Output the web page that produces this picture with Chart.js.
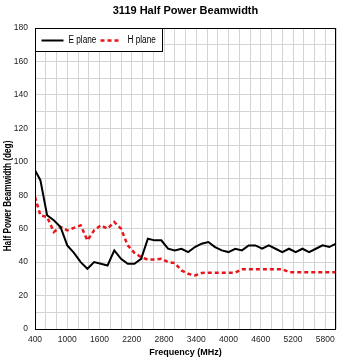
<!DOCTYPE html>
<html>
<head>
<meta charset="utf-8">
<script src="https://cdn.jsdelivr.net/npm/chart.js@4"></script>
<style>
  html, body { margin: 0; padding: 0; background: #fff; }
  #wrap { width: 350px; height: 359px; }
</style>
</head>
<body>
<div id="wrap"><canvas id="beamChart" width="350" height="359"></canvas></div>
<script>
// frequencies in MHz
const freqs = [400, 500, 625, 750, 875, 1000, 1125, 1250, 1375, 1500,
    1625, 1750, 1875, 2000, 2125, 2250, 2375, 2500, 2625, 2750,
    2875, 3000, 3125, 3250, 3375, 3500, 3625, 3750, 3875, 4000,
    4125, 4250, 4375, 4500, 4625, 4750, 4875, 5000, 5125, 5250,
    5375, 5500, 5625, 5750, 5875, 6000];
const ePlane = [95, 89, 68, 65, 61, 50, 45.5, 40, 36, 40,
    39, 38, 47, 42, 39, 39, 42, 54, 53, 53,
    48, 47, 48, 46, 49, 51, 52, 49, 47, 46,
    48, 47, 50, 50, 48, 50, 48, 46, 48, 46,
    48, 46, 48, 50, 49, 51];
const hPlane = [79, 68, 67, 58, 61, 59, 60.5, 62, 53, 59,
    62, 60, 64, 60, 50, 45.5, 43, 41.5, 41.5, 42,
    40, 39.5, 35, 33, 32, 33.5, 33.7, 33.7, 33.7, 33.7,
    33.7, 35.8, 35.8, 35.8, 35.8, 35.8, 35.8, 35.8, 34, 34,
    34, 34, 34, 34, 34, 34];
const xLabelTicks = [400, 1000, 1600, 2200, 2800, 3400, 4000, 4600, 5200, 5800];
const yLabelTicks = [0, 20, 40, 60, 80, 100, 120, 140, 160, 180];

const sans = '"Liberation Sans", Arial, sans-serif';

// draw text squeezed horizontally, the original uses a narrow face
function narrowText(ctx, text, x, y, squeeze) {
    ctx.save();
    ctx.translate(x, y);
    ctx.scale(squeeze, 1);
    ctx.fillText(text, 0, 0);
    ctx.restore();
}

const framePlugin = {
    id: 'frameAndLegend',
    afterDraw(chart) {
        const { ctx, chartArea: a } = chart;
        ctx.save();
        // plot frame
        ctx.strokeStyle = '#000';
        ctx.lineWidth = 1;
        ctx.strokeRect(a.left + 0.5, a.top + 0.5, a.right - a.left - 1, a.bottom - a.top);

        // legend box in the top-left corner
        const bx = a.left + 0.5, by = a.top + 0.5, bw = 127, bh = 23;
        ctx.fillStyle = '#fff';
        ctx.fillRect(bx, by, bw, bh);
        ctx.strokeRect(bx, by, bw, bh);
        const ly = by + 12;
        ctx.lineWidth = 2;
        ctx.beginPath();
        ctx.moveTo(bx + 6, ly);
        ctx.lineTo(bx + 28, ly);
        ctx.stroke();
        ctx.strokeStyle = '#e8161b';
        ctx.lineWidth = 2.5;
        ctx.setLineDash([4, 3]);
        ctx.beginPath();
        ctx.moveTo(bx + 65, ly);
        ctx.lineTo(bx + 83, ly);
        ctx.stroke();
        ctx.setLineDash([]);
        ctx.fillStyle = '#000';
        ctx.font = '10px ' + sans;
        ctx.textBaseline = 'middle';
        narrowText(ctx, chart.data.datasets[0].label, bx + 33, ly, 0.82);
        narrowText(ctx, chart.data.datasets[1].label, bx + 92, ly, 0.82);

        // y axis title
        ctx.font = 'bold 10px ' + sans;
        ctx.textAlign = 'center';
        ctx.translate(8, 196);
        ctx.rotate(-Math.PI / 2);
        narrowText(ctx, 'Half Power Beamwidth (deg)', 0, 0, 0.82);
        ctx.restore();
    }
};

new Chart(document.getElementById('beamChart').getContext('2d'), {
    type: 'line',
    data: {
        datasets: [
            {
                label: 'E plane',
                data: freqs.map((f, i) => ({ x: f, y: ePlane[i] })),
                borderColor: '#000',
                borderWidth: 2,
                pointRadius: 0,
                tension: 0
            },
            {
                label: 'H plane',
                data: freqs.map((f, i) => ({ x: f, y: hPlane[i] })),
                borderColor: '#e8161b',
                borderWidth: 2.5,
                borderDash: [4, 3],
                pointRadius: 0,
                tension: 0
            }
        ]
    },
    options: {
        responsive: false,
        animation: false,
        layout: { padding: { left: 0, right: 14, top: 0, bottom: 0 } },
        plugins: {
            legend: { display: false },
            tooltip: { enabled: false },
            title: {
                display: true,
                text: '3119 Half Power Beamwidth',
                fullSize: false,
                color: '#000',
                font: { family: sans, size: 11, weight: 'bold' },
                padding: { top: 4.5, bottom: 10.3 }
            }
        },
        scales: {
            x: {
                type: 'linear',
                min: 400,
                max: 6000,
                afterFit: (scale) => { scale.height = 30; },
                grid: { color: '#d4d4d4', drawTicks: false },
                border: { display: false },
                ticks: {
                    stepSize: 200,
                    autoSkip: false,
                    maxRotation: 0,
                    padding: 6,
                    color: '#222',
                    font: { family: sans, size: 8.5 },
                    callback: (v) => xLabelTicks.includes(v) ? String(v) : ''
                },
                title: {
                    display: true,
                    text: 'Frequency (MHz)',
                    color: '#000',
                    font: { family: sans, size: 9, weight: 'bold' },
                    padding: { top: 0, bottom: 1.5 }
                }
            },
            y: {
                min: 0,
                max: 180,
                afterFit: (scale) => { scale.width = 35; },
                grid: { color: '#d4d4d4', drawTicks: false },
                border: { display: false },
                ticks: {
                    stepSize: 10,
                    autoSkip: false,
                    padding: 7,
                    color: '#222',
                    font: { family: sans, size: 8.5 },
                    callback: (v) => yLabelTicks.includes(v) ? String(v) : ''
                }
            }
        }
    },
    plugins: [framePlugin]
});
</script>
</body>
</html>
